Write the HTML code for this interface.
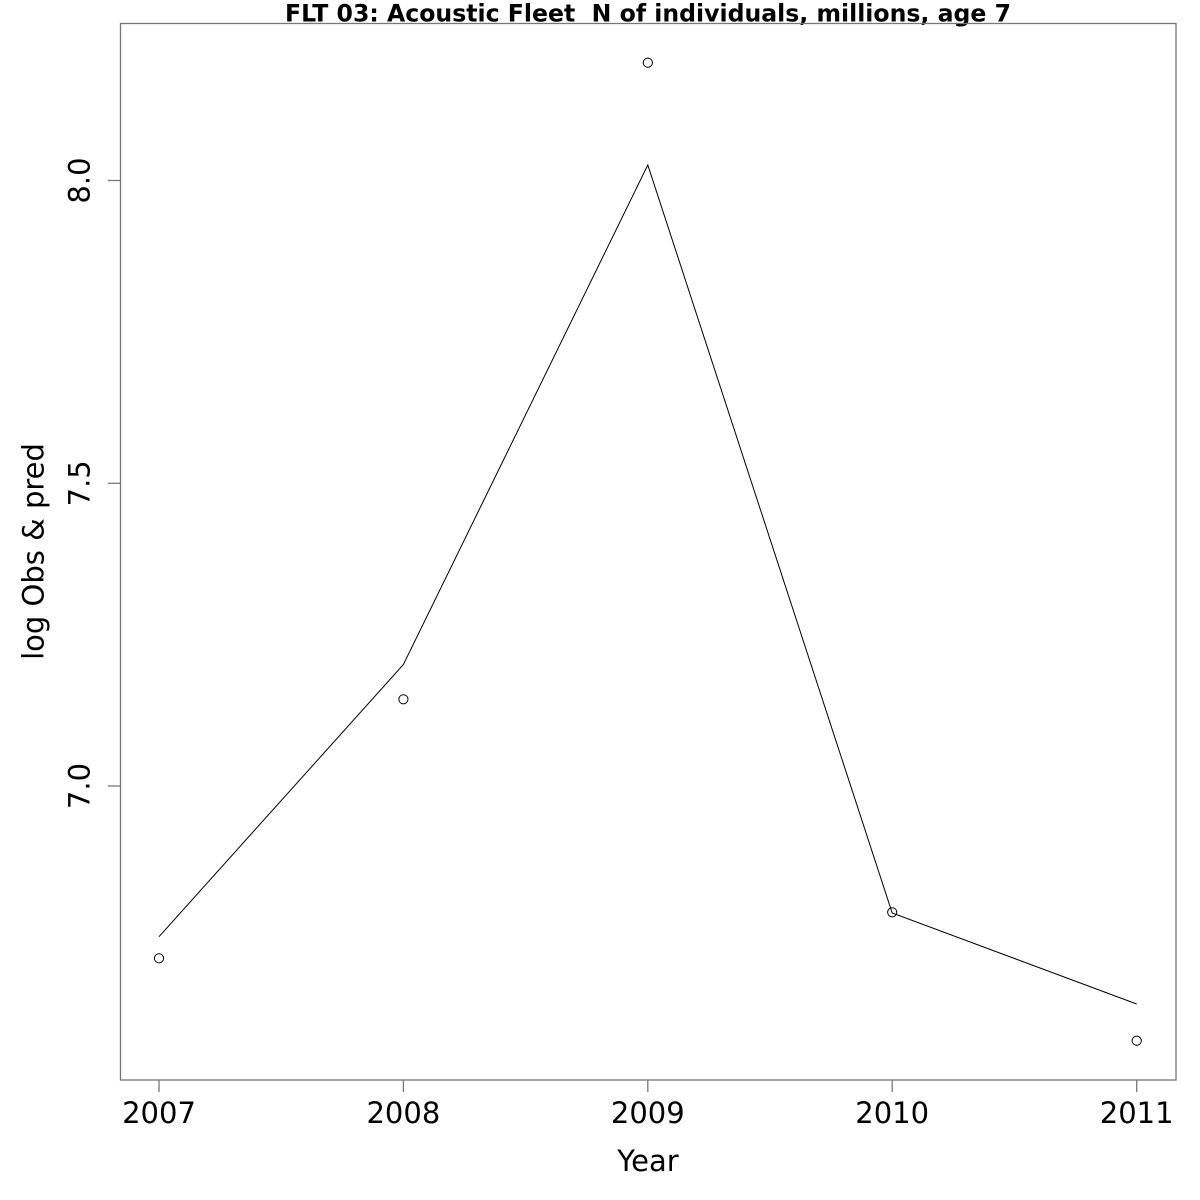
<!DOCTYPE html>
<html>
<head>
<meta charset="utf-8">
<style>
  html, body { margin: 0; padding: 0; background: #fff; }
  svg { display: block; }
  text { font-family: "DejaVu Sans", "Liberation Sans", sans-serif; fill: #000; }
</style>
</head>
<body>
<svg width="1200" height="1200" viewBox="0 0 1200 1200" xmlns="http://www.w3.org/2000/svg">
  <rect x="0" y="0" width="1200" height="1200" fill="#fff"/>
  <!-- Title -->
  <text x="648" y="21.5" font-size="24" font-weight="bold" text-anchor="middle" xml:space="preserve" style="white-space:pre" textLength="726" lengthAdjust="spacingAndGlyphs">FLT 03: Acoustic Fleet  N of individuals, millions, age 7</text>

  <!-- plot box -->
  <rect x="120.5" y="23.5" width="1055.5" height="1056.5" fill="none" stroke="#777" stroke-width="1.3"/>

  <!-- x ticks -->
  <g stroke="#777" stroke-width="1.3">
    <line x1="159" y1="1080" x2="159" y2="1092"/>
    <line x1="403.4" y1="1080" x2="403.4" y2="1092"/>
    <line x1="647.8" y1="1080" x2="647.8" y2="1092"/>
    <line x1="892.2" y1="1080" x2="892.2" y2="1092"/>
    <line x1="1136.7" y1="1080" x2="1136.7" y2="1092"/>
    <!-- y ticks -->
    <line x1="108" y1="180.5" x2="120" y2="180.5"/>
    <line x1="108" y1="483.3" x2="120" y2="483.3"/>
    <line x1="108" y1="786" x2="120" y2="786"/>
  </g>

  <!-- x tick labels -->
  <g font-size="29" text-anchor="middle">
    <text x="159" y="1123">2007</text>
    <text x="403.4" y="1123">2008</text>
    <text x="647.8" y="1123">2009</text>
    <text x="892.2" y="1123">2010</text>
    <text x="1136.7" y="1123">2011</text>
  </g>

  <!-- y tick labels -->
  <g font-size="29" text-anchor="middle">
    <text transform="translate(89.5,180.5) rotate(-90)">8.0</text>
    <text transform="translate(89.5,483.3) rotate(-90)">7.5</text>
    <text transform="translate(89.5,786) rotate(-90)">7.0</text>
  </g>

  <!-- axis titles -->
  <text x="648" y="1171" font-size="29" text-anchor="middle">Year</text>
  <text transform="translate(43.3,551.5) rotate(-90)" font-size="29" text-anchor="middle">log Obs &amp; pred</text>

  <!-- predicted line -->
  <polyline points="159,936.7 403.4,664.5 647.8,165 892.2,913 1136.7,1004" fill="none" stroke="#000" stroke-width="1"/>

  <!-- observed points -->
  <g fill="none" stroke="#000" stroke-width="1">
    <circle cx="159" cy="958.3" r="4.6"/>
    <circle cx="403.4" cy="699.3" r="4.6"/>
    <circle cx="647.8" cy="62.7" r="4.6"/>
    <circle cx="892.2" cy="912.3" r="4.6"/>
    <circle cx="1136.7" cy="1040.7" r="4.6"/>
  </g>
</svg>
</body>
</html>
